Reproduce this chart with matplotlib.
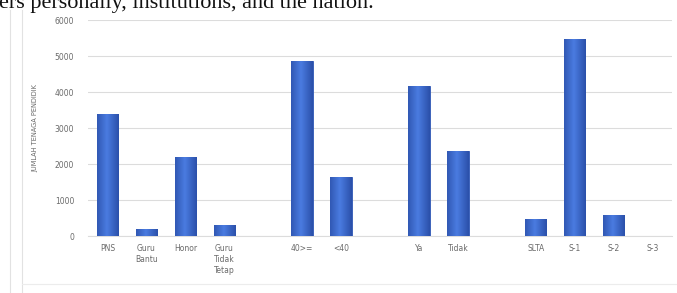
import matplotlib
matplotlib.use("Agg")
import matplotlib.pyplot as plt
from matplotlib.lines import Line2D
from matplotlib.colors import LinearSegmentedColormap
import numpy as np

categories = ["PNS", "Guru\nBantu", "Honor", "Guru\nTidak\nTetap", "",
              "40>=", "<40", "", "Ya", "Tidak", "", "SLTA", "S-1", "S-2", "S-3"]
values = [3380, 200, 2200, 300, 0, 4860, 1650, 0, 4170, 2360, 0, 470, 5470, 580, 0]
yticks = [0, 1000, 2000, 3000, 4000, 5000, 6000]
ylabel = "JUMLAH TENAGA PENDIDIK"
header = "ers personally, institutions, and the nation."

W, H = 677, 293
fig = plt.figure(figsize=(W / 100, H / 100), dpi=100)
fig.patch.set_facecolor("white")

ax = fig.add_axes([88 / W, 57 / H, (672 - 88) / W, 216 / H])
x = np.arange(len(categories))
bars = ax.bar(x, values, width=0.55, color="#3c68cf", edgecolor="#2f56b3",
              linewidth=0.6, zorder=3)

# horizontal gradient on bars
grad = np.linspace(0, 1, 64)
grad = 1 - np.abs(grad - 0.45) * 1.6
grad = np.clip(grad, 0, 1)[None, :]
cmap = LinearSegmentedColormap.from_list("b", ["#2b50aa", "#4a7be0"])
for b in bars:
    if b.get_height() <= 0:
        continue
    x0, y0 = b.get_x(), b.get_y()
    im = ax.imshow(grad, cmap=cmap, aspect="auto", zorder=4,
                   extent=(x0, x0 + b.get_width(), y0, y0 + b.get_height()),
                   interpolation="bilinear")
    im.set_clip_path(b)

ax.set_xlim(-0.5, len(categories) - 0.5)
ax.set_ylim(0, 6000)
ax.set_yticks(yticks)
ax.set_yticklabels([str(v) for v in yticks])
ax.set_xticks(x)
ax.set_xticklabels(categories, va="top", linespacing=1.25)
ax.tick_params(axis="both", length=0, labelsize=5.5, labelcolor="#6a6a6a")
ax.tick_params(axis="y", pad=10)
ax.tick_params(axis="x", pad=6)
ax.grid(axis="y", color="#dcdcdc", linewidth=0.8, zorder=0)
for s in ["top", "right", "left"]:
    ax.spines[s].set_visible(False)
ax.spines["bottom"].set_color("#dcdcdc")
ax.spines["bottom"].set_linewidth(0.8)
ax.set_ylabel(ylabel, fontsize=4.8, color="#6a6a6a", labelpad=12)

# page/document elements
fig.text(-1 / W, 1 - 8 / H, header, fontsize=16, family="Liberation Serif",
         color="#111111", va="baseline", ha="left")
for xp in (10, 22):
    fig.add_artist(Line2D([xp / W, xp / W], [0, 1 - 10 / H], transform=fig.transFigure,
                          color="#e2e2e2", linewidth=0.8))
fig.add_artist(Line2D([22 / W, 1], [1 - 284 / H, 1 - 284 / H], transform=fig.transFigure,
                      color="#ececec", linewidth=0.8))

fig.savefig("out.png", dpi=100, facecolor="white")
